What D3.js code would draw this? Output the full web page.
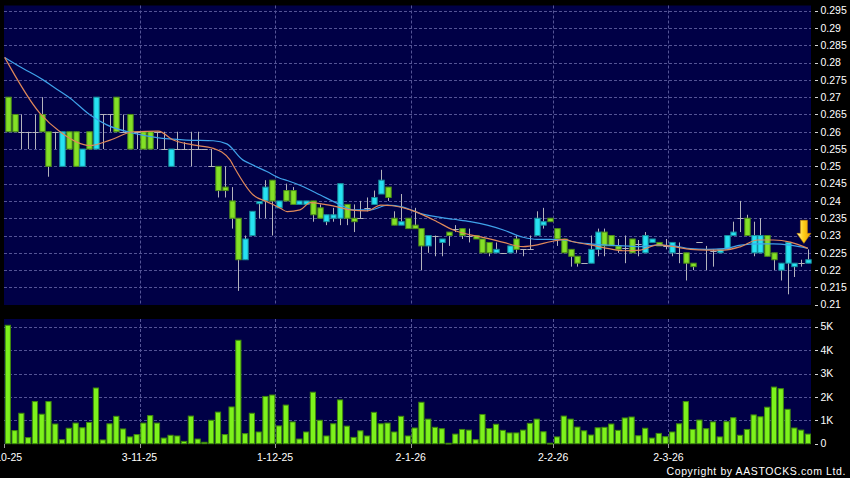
<!DOCTYPE html>
<html><head><meta charset="utf-8">
<script src="https://cdn.jsdelivr.net/npm/d3@7"></script>
<style>
html,body{margin:0;padding:0;background:#000;}
svg{display:block;}
text{font-family:"Liberation Sans",Arial,sans-serif;}
</style></head>
<body>
<svg id="chart" width="850" height="478"></svg>
<script>
// ---------- DATA ----------
const dateLabels = ["2-10-25","3-11-25","1-12-25","2-1-26","2-2-26","2-3-26"];
const dateLabelIdx = [0,20,40,60,81,98];
const priceTicks = [0.295,0.29,0.285,0.28,0.275,0.27,0.265,0.26,0.255,0.25,0.245,0.24,0.235,0.23,0.225,0.22,0.215,0.21];
const volTicks = [5000,4000,3000,2000,1000,0];
const volTickLabels = ["5K","4K","3K","2K","1K","0"];

const opens = [.270,.265,.260,.260,.260,.265,.260,.260,.250,.260,.260,.250,.260,.255,.265,.265,.270,.260,.265,.260,
.260,.260,.260,.255,.250,.255,.255,.255,.255,.255,.250,.250,.244,.240,.235,.223,.230,.2392,.240,.246,
.238,.243,.243,.239,.239,.240,.238,.234,.235,.235,.239,.235,.235,.238,.239,.242,.244,.235,.233,.235,
.233,.232,.227,.230,.228,.231,.232,.232,.230,.230,.229,.228,.225,.225,.225,.229,.226,.226,.230,.233,
.235,.232,.229,.226,.224,.222,.222,.226,.231,.230,.227,.2265,.229,.2275,.225,.228,.228,.227,.225,.225,
.225,.222,.228,.226,.2255,.225,.226,.230,.235,.235,.225,.225,.230,.225,.220,.222,.221,.222,.222];
const highs = [.270,.265,.265,.260,.265,.270,.260,.260,.260,.260,.260,.255,.260,.270,.265,.265,.270,.265,.265,.260,
.260,.260,.260,.260,.255,.260,.257,.260,.260,.255,.255,.250,.250,.244,.235,.230,.237,.2398,.246,.246,
.240,.245,.244,.240,.240,.240,.239,.236,.238,.245,.239,.239,.240,.241,.243,.249,.244,.237,.242,.235,
.238,.232,.230,.230,.229,.231,.233,.232,.232,.230,.229,.228,.228,.225,.227,.230,.226,.230,.237,.238,
.235,.232,.229,.226,.224,.222,.230,.232,.232,.230,.229,.230,.229,.2287,.231,.229,.228,.229,.228,.228,
.225,.222,.228,.227,.226,.226,.230,.234,.240,.236,.234,.235,.230,.225,.222,.228,.222,.223,.226];
const lows = [.260,.260,.255,.255,.255,.260,.247,.255,.250,.255,.250,.250,.255,.255,.255,.260,.260,.260,.255,.255,
.255,.255,.255,.255,.250,.255,.255,.250,.255,.255,.250,.241,.241,.232,.214,.223,.230,.235,.235,.230,
.238,.240,.239,.239,.239,.234,.235,.233,.234,.233,.233,.231,.235,.237,.239,.242,.240,.233,.233,.232,
.232,.220,.225,.224,.224,.227,.231,.229,.228,.229,.225,.224,.225,.225,.225,.225,.224,.226,.230,.232,
.234,.227,.225,.221,.221,.222,.222,.224,.224,.227,.225,.222,.225,.224,.225,.228,.227,.226,.224,.222,
.217,.220,.228,.220,.221,.225,.226,.230,.231,.230,.224,.225,.224,.220,.217,.213,.218,.221,.222];
const closes = [.260,.260,.260,.260,.260,.260,.250,.260,.260,.255,.250,.255,.255,.270,.265,.265,.260,.260,.255,.260,
.255,.255,.260,.255,.255,.255,.255,.255,.255,.255,.250,.243,.243,.235,.223,.229,.237,.2398,.244,.240,
.240,.240,.239,.240,.240,.236,.235,.236,.236,.245,.235,.234,.235,.238,.241,.246,.241,.233,.234,.232,
.232,.227,.230,.230,.229,.230,.232,.230,.230,.229,.225,.225,.226,.225,.227,.226,.226,.226,.235,.234,
.234,.229,.225,.224,.222,.222,.226,.231,.227,.227,.226,.2265,.225,.2275,.230,.229,.227,.227,.228,.225,
.222,.221,.228,.226,.2255,.226,.230,.231,.235,.230,.230,.230,.224,.223,.222,.228,.222,.222,.223];
const volumes = [5060,560,1300,260,1800,1260,1800,840,170,660,880,680,910,2380,160,850,1170,630,290,390,
880,1200,880,240,360,330,100,1180,200,60,1000,1350,390,1570,4420,430,1300,500,2020,2080,
760,1650,930,200,500,2200,1000,330,850,1870,750,270,550,330,1340,850,880,500,1170,330,
670,1770,1050,700,640,20,410,610,580,170,1250,650,830,570,460,460,580,870,1050,510,
20,290,1180,1050,710,550,370,680,700,840,570,1100,1140,340,660,240,440,300,500,850,
1800,610,1010,640,930,290,940,1110,360,610,1230,1150,1560,2420,2350,1470,670,580,410];

// moving averages: [candle index, value]
const maShort = [[-0.46,0.2815],[4.75,0.2653],[7.7,0.260],[12.1,0.256],[15.1,0.2576],[18.5,0.260],[22.2,0.2602],
[24.4,0.2576],[27.3,0.2562],[30.3,0.2552],[32.8,0.2518],[33.2,0.2504],[36.2,0.2417],[38.2,0.2398],[40.2,0.2379],
[41.2,0.2369],[43.1,0.2374],[44.6,0.2395],[46.5,0.2391],[48.6,0.2383],[50.5,0.2374],[53,0.2371],[55,0.2388],
[56.8,0.2386],[59.4,0.2374],[61.3,0.2359],[63.3,0.234],[65.7,0.2316],[68.2,0.2302],[70.7,0.2292],[73.1,0.228],
[76.0,0.2268],[78.1,0.2273],[80,0.2282],[82.1,0.2289],[83.4,0.2282],[85.9,0.2273],[88.4,0.2263],[90.8,0.2256],
[93.3,0.2258],[95.8,0.2273],[98.2,0.2268],[100.7,0.226],[103.2,0.2258],[105.6,0.2258],[108.1,0.2268],
[110.6,0.2287],[112.9,0.2287],[115.4,0.2281],[118,0.2263]];
const maLong = [[-0.46,0.2815],[1.8,0.2788],[5.2,0.275],[6.7,0.273],[9.2,0.2697],[12.1,0.2649],[14.6,0.262],
[18.5,0.2596],[22,0.2583],[26.4,0.2576],[30.3,0.2574],[32.3,0.2565],[34.7,0.2518],[35.6,0.2509],[38.2,0.2485],
[40.2,0.2465],[41.2,0.2459],[43.6,0.2441],[46.1,0.2417],[48.6,0.2393],[51,0.2374],[53.5,0.2374],[56,0.2388],
[58.3,0.2382],[60.8,0.2364],[63.3,0.2354],[65.7,0.2347],[68.2,0.234],[70.7,0.233],[73.1,0.2316],[76,0.2295],
[78.1,0.2289],[80,0.2289],[82.1,0.2287],[83.4,0.2282],[85.9,0.2276],[88.4,0.2272],[90.8,0.227],[93.3,0.2268],
[95.8,0.2272],[98.2,0.227],[100.7,0.2262],[103.2,0.226],[105.6,0.2262],[108.1,0.2272],[110.6,0.2276],
[112.9,0.2276],[115.4,0.2272],[118,0.2263]];

// ---------- DRAW ----------
const svg = d3.select("#chart");
const W = 850, H = 478;
const L = 4, R = 811;
const pTop = 5.5, pBot = 305, vTop = 319, vBot = 444;
const n = opens.length;

const x = d3.scaleBand().domain(d3.range(n)).range([4.7, R]).paddingInner(0.085).paddingOuter(0);
const bw = x.bandwidth();
const xc = d3.scaleLinear().domain([0, n-1]).range([x(0)+bw/2, x(n-1)+bw/2]);
const y = d3.scaleLinear().domain([0.21, 0.295]).range([304.7, 10.7]);
const yv = d3.scaleLinear().domain([0, 5000]).range([443.7, 326.7]);

svg.append("rect").attr("width",W).attr("height",H).attr("fill","#000");
svg.append("rect").attr("x",L).attr("y",pTop).attr("width",R-L).attr("height",pBot-pTop).attr("fill","#000046");
svg.append("rect").attr("x",L).attr("y",vTop).attr("width",R-L).attr("height",vBot-vTop).attr("fill","#000046");

const gridColor = "#545496";
// horizontal grid price
svg.append("g").selectAll("line").data(priceTicks.filter(d=>d>0.211)).join("line")
  .attr("x1",L).attr("x2",R).attr("y1",d=>Math.round(y(d))+0.5).attr("y2",d=>Math.round(y(d))+0.5)
  .attr("stroke",gridColor).attr("stroke-width",1).attr("stroke-dasharray","3,2");
svg.append("g").selectAll("line").data(volTicks.filter(d=>d>0)).join("line")
  .attr("x1",L).attr("x2",R).attr("y1",d=>Math.round(yv(d))+0.5).attr("y2",d=>Math.round(yv(d))+0.5)
  .attr("stroke",gridColor).attr("stroke-width",1).attr("stroke-dasharray","3,2");
// vertical grid
const gx = dateLabelIdx.map(i => i===0 ? L : x(i)-0.8);
[[pTop,pBot],[vTop,vBot]].forEach(([a,b])=>{
  svg.append("g").selectAll("line").data(gx.slice(1)).join("line")
    .attr("x1",d=>Math.round(d)+0.5).attr("x2",d=>Math.round(d)+0.5).attr("y1",a).attr("y2",b)
    .attr("stroke",gridColor).attr("stroke-width",1).attr("stroke-dasharray","3,2");
});

// volume bars
svg.append("g").selectAll("rect").data(volumes).join("rect")
  .attr("x",(d,i)=>x(i)+0.5).attr("width",bw-1)
  .attr("y",d=>yv(d)).attr("height",d=>Math.max(0.8, yv(0)-yv(d)))
  .attr("fill","#7df21c").attr("stroke","#3f8a0c").attr("stroke-width",1);

// candles
const data = d3.range(n).map(i=>({i,o:opens[i],h:highs[i],l:lows[i],c:closes[i]}));
const cg = svg.append("g");
const bodyW = 5.4;
cg.selectAll("line.w").data(data).join("line").attr("class","w")
  .attr("x1",d=>Math.round(xc(d.i))+0.5).attr("x2",d=>Math.round(xc(d.i))+0.5)
  .attr("y1",d=>y(d.h)).attr("y2",d=>y(d.l))
  .attr("stroke","#b4b4bc").attr("stroke-width",1);
cg.selectAll("rect.b").data(data.filter(d=>Math.abs(d.c-d.o)>0.0002)).join("rect").attr("class","b")
  .attr("x",d=>Math.round(xc(d.i))+0.5-bodyW/2).attr("width",bodyW)
  .attr("y",d=>y(Math.max(d.o,d.c))).attr("height",d=>Math.abs(y(d.o)-y(d.c)))
  .attr("fill",d=>d.c>d.o?"#26e2f2":"#84e026")
  .attr("stroke",d=>d.c>d.o?"#178e9c":"#4c8c18").attr("stroke-width",1);
cg.selectAll("line.d").data(data.filter(d=>Math.abs(d.c-d.o)<=0.0002)).join("line").attr("class","d")
  .attr("x1",d=>Math.round(xc(d.i))+0.5-bodyW/2-0.5).attr("x2",d=>Math.round(xc(d.i))+0.5+bodyW/2+0.5)
  .attr("y1",d=>Math.round(y(d.c))+0.5).attr("y2",d=>Math.round(y(d.c))+0.5)
  .attr("stroke","#b4b4bc").attr("stroke-width",1);

// moving averages
const line = d3.line().x(d=>xc(d[0])).y(d=>y(d[1])).curve(d3.curveMonotoneX);
svg.append("path").attr("d",line(maLong)).attr("fill","none").attr("stroke","#3fa2ea").attr("stroke-width",1.2);
svg.append("path").attr("d",line(maShort)).attr("fill","none").attr("stroke","#e0885a").attr("stroke-width",1.2);

// arrow over last candle
const defs = svg.append("defs");
const gr = defs.append("linearGradient").attr("id","ag").attr("x1","0").attr("x2","1").attr("y1","0").attr("y2","0");
gr.append("stop").attr("offset","0").attr("stop-color","#fff4a8");
gr.append("stop").attr("offset","0.45").attr("stop-color","#ffd21c");
gr.append("stop").attr("offset","1").attr("stop-color","#e89a00");
const ax = xc(n-1) - 4, ay = y(highs[n-1]) - 6;
svg.append("path")
  .attr("d",`M${ax-3.5},${ay-23} L${ax+3.5},${ay-23} L${ax+3.5},${ay-10} L${ax+7},${ay-10} L${ax},${ay} L${ax-7},${ay-10} L${ax-3.5},${ay-10} Z`)
  .attr("fill","url(#ag)").attr("stroke","#c98a00").attr("stroke-width",0.6);

// right axis price
const axG = svg.append("g");
axG.selectAll("line").data(priceTicks).join("line")
  .attr("x1",815).attr("x2",818).attr("y1",d=>Math.round(y(d))+0.5).attr("y2",d=>Math.round(y(d))+0.5)
  .attr("stroke","#d8d8d8");
axG.selectAll("text").data(priceTicks).join("text")
  .attr("x",820.5).attr("y",d=>y(d)).attr("dy","0.36em")
  .attr("fill","#fff").attr("font-size","10.5px").text(d=>d3.format("")(+d.toFixed(3)));
const avG = svg.append("g");
avG.selectAll("line").data(volTicks).join("line")
  .attr("x1",815).attr("x2",818).attr("y1",d=>Math.round(yv(d))+0.5).attr("y2",d=>Math.round(yv(d))+0.5)
  .attr("stroke","#d8d8d8");
avG.selectAll("text").data(volTicks).join("text")
  .attr("x",820.5).attr("y",d=>yv(d)).attr("dy","0.36em")
  .attr("fill","#fff").attr("font-size","10.5px").text((d,i)=>volTickLabels[i]);

// date axis
const dG = svg.append("g");
dG.selectAll("line").data(gx).join("line")
  .attr("x1",d=>Math.round(d)+0.5).attr("x2",d=>Math.round(d)+0.5).attr("y1",vBot).attr("y2",vBot+4)
  .attr("stroke","#9a9a9a");
dG.selectAll("text").data(dateLabels).join("text")
  .attr("x",(d,i)=>gx[i]).attr("y",461).attr("text-anchor","middle")
  .attr("fill","#fff").attr("font-size","10.5px").text(d=>d);

svg.append("text").attr("x",846).attr("y",475).attr("text-anchor","end")
  .attr("fill","#fff").attr("font-size","10.5px").attr("letter-spacing","0.6px")
  .text("Copyright by AASTOCKS.com Ltd.");
</script>
</body></html>
